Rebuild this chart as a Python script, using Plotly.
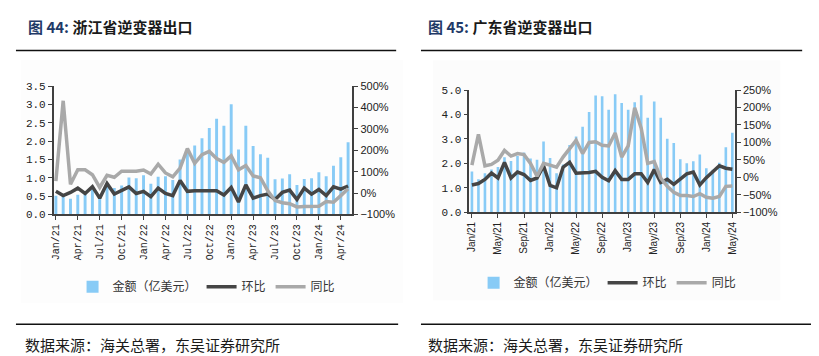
import plotly.graph_objects as go

months = ["Jan/21", "Feb/21", "Mar/21", "Apr/21", "May/21", "Jun/21", "Jul/21", "Aug/21", "Sep/21", "Oct/21", "Nov/21", "Dec/21",
          "Jan/22", "Feb/22", "Mar/22", "Apr/22", "May/22", "Jun/22", "Jul/22", "Aug/22", "Sep/22", "Oct/22", "Nov/22", "Dec/22",
          "Jan/23", "Feb/23", "Mar/23", "Apr/23", "May/23", "Jun/23", "Jul/23", "Aug/23", "Sep/23", "Oct/23", "Nov/23", "Dec/23",
          "Jan/24", "Feb/24", "Mar/24", "Apr/24", "May/24"]

left_ticks = months[::3]
right_ticks = months[::4]

# 浙江省 (left panel)
zj_amount = [0.51, 0.50, 0.43, 0.54, 0.56, 0.69, 0.44, 0.75, 0.72, 0.79, 1.01, 0.99,
             1.07, 0.84, 1.03, 1.04, 0.94, 1.50, 1.70, 1.88, 2.08, 2.36, 2.61, 2.42,
             3.01, 1.77, 2.42, 1.87, 1.64, 1.55, 0.96, 0.98, 1.10, 0.80, 0.97, 0.99,
             1.15, 1.04, 1.33, 1.56, 1.97]
zj_mom = [8, -12, 3, 23, -2, 30, -24, 45, -5, 11, 29, -2,
          8, -17, 23, -2, -12, 59, 8, 11, 11, 12, 11, -9,
          26, -42, 38, -24, -12, -5, -30, 3, 14, -30, 23, -5,
          17, -12, 29, 18, 33]
zj_yoy = [56, 432, 41, 109, 109, 86, 26, 83, 74, 102, 102, 102,
          108, 89, 135, 94, 76, 117, 208, 139, 180, 195, 162, 144,
          174, 109, 129, 80, 72, 10, -35, -45, -50, -65, -63, -62,
          -62, -40, -43, -12, 20]

# 广东省 (right panel)
gd_amount = [1.67, 1.35, 1.60, 1.75, 1.85, 2.25, 2.10, 2.30, 2.45, 2.20, 2.15, 2.90,
             2.22, 1.60, 1.95, 2.75, 3.10, 3.50, 4.10, 4.78, 4.75, 4.20, 4.83, 4.47,
             4.20, 4.50, 4.79, 3.87, 4.53, 3.87, 3.01, 2.83, 2.17, 2.00, 2.09, 2.36,
             1.80, 1.74, 2.03, 2.66, 3.25]
gd_mom = [-22, -18, -6, 12, -2, 43, -2, 15, 8, -9, -2, 33,
          -23, -30, 29, 43, 12, 12, 14, 17, 0, -10, 19, -6,
          -6, 10, 10, -15, 22, -15, -6, -20, -4, 10, 15, -22,
          -1, 17, 33, 26, 23]
gd_yoy = [35, 123, 33, 37, 49, 77, 61, 68, 65, 40, 3, 40,
          35, 29, 58, 81, 106, 68, 100, 102, 92, 90, 127, 58,
          90, 199, 141, 40, 45, -2, -26, -43, -52, -52, -55, -47,
          -57, -60, -55, -26, -25]

W, H = 819, 356
BAR = "#88CBF6"
DARK = "#454545"
GRAY = "#A9A9A9"
AX = "#404040"
MONO = "Liberation Mono"
SANS = "Liberation Sans"
CJK = "Noto Sans CJK SC"


def px(x):
    return x / W


def py(y):
    return 1 - y / H


fig = go.Figure()

fig.add_trace(go.Bar(x=months, y=zj_amount, name="金额（亿美元）", marker=dict(color=BAR, line=dict(width=0)),
                     xaxis="x", yaxis="y", legend="legend"))
fig.add_trace(go.Scatter(x=months, y=zj_mom, name="环比", mode="lines", line=dict(color=DARK, width=3.5),
                         xaxis="x", yaxis="y2", legend="legend"))
fig.add_trace(go.Scatter(x=months, y=zj_yoy, name="同比", mode="lines", line=dict(color=GRAY, width=3.5),
                         xaxis="x", yaxis="y2", legend="legend"))

fig.add_trace(go.Bar(x=months, y=gd_amount, name="金额（亿美元）", marker=dict(color=BAR, line=dict(width=0)),
                     xaxis="x2", yaxis="y3", legend="legend2"))
fig.add_trace(go.Scatter(x=months, y=gd_mom, name="环比", mode="lines", line=dict(color=DARK, width=3.5),
                         xaxis="x2", yaxis="y4", legend="legend2"))
fig.add_trace(go.Scatter(x=months, y=gd_yoy, name="同比", mode="lines", line=dict(color=GRAY, width=3.5),
                         xaxis="x2", yaxis="y4", legend="legend2"))

common_axis = dict(showline=True, linecolor=AX, linewidth=1.5, ticks="outside", tickcolor=AX,
                   ticklen=4, showgrid=False, zeroline=False)

fig.update_layout(
    width=W, height=H,
    margin=dict(l=0, r=0, t=0, b=0),
    paper_bgcolor="white",
    plot_bgcolor="rgba(0,0,0,0)",
    bargap=0.6,
    hovermode=False,
    xaxis=dict(domain=[px(43), px(344)], anchor="y", type="category", range=[-0.3, 40.6],
               tickmode="array", tickvals=left_ticks, ticktext=left_ticks, tickangle=-90,
               tickfont=dict(family=MONO, size=10, color="#222"), **common_axis),
    yaxis=dict(domain=[py(208), py(75)], anchor="x", range=[0, 3.5], dtick=0.5, tickformat=".1f",
               tickfont=dict(family=MONO, size=11, color="#222"), **common_axis),
    yaxis2=dict(overlaying="y", side="right", anchor="x", range=[-100, 500], dtick=100, ticksuffix="%",
                tickfont=dict(family=SANS, size=11, color="#222"), **common_axis),
    xaxis2=dict(domain=[px(461.7), px(729.3)], anchor="y3", type="category", range=[-0.4, 40.4],
                tickmode="array", tickvals=right_ticks, ticktext=right_ticks, tickangle=-90,
                tickfont=dict(family=SANS, size=10, color="#222"), **common_axis),
    yaxis3=dict(domain=[py(205.7), py(79)], anchor="x2", range=[0, 5], dtick=1, tickformat=".1f",
                tickfont=dict(family=MONO, size=11, color="#222"), **common_axis),
    yaxis4=dict(overlaying="y3", side="right", anchor="x2", range=[-100, 250], dtick=50, ticksuffix="%",
                tickfont=dict(family=SANS, size=11, color="#222"), **common_axis),
    legend=dict(orientation="h", x=px(197), xanchor="center", y=py(283), yanchor="middle",
                font=dict(family=CJK, size=12, color="#333"), bgcolor="rgba(0,0,0,0)",
                itemwidth=30, tracegroupgap=0),
    legend2=dict(orientation="h", x=px(601), xanchor="center", y=py(279), yanchor="middle",
                 font=dict(family=CJK, size=12, color="#333"), bgcolor="rgba(0,0,0,0)",
                 itemwidth=30, tracegroupgap=0),
)

shapes = []
# faint chart backgrounds
shapes.append(dict(type="rect", xref="paper", yref="paper", x0=px(10), x1=px(395), y0=py(300), y1=py(48),
                   fillcolor="#FDFDFD", line=dict(width=0), layer="below"))
shapes.append(dict(type="rect", xref="paper", yref="paper", x0=px(425), x1=px(775), y0=py(297), y1=py(48),
                   fillcolor="#FCFCFC", line=dict(width=0), layer="below"))
# rules
for x0, x1 in [(5, 388), (413, 797)]:
    shapes.append(dict(type="line", xref="paper", yref="paper", x0=px(x0), x1=px(x1), y0=py(38), y1=py(38),
                       line=dict(color="#111", width=1.5)))
for x0, x1 in [(5, 390), (413, 808)]:
    shapes.append(dict(type="line", xref="paper", yref="paper", x0=px(x0), x1=px(x1), y0=py(322), y1=py(322),
                       line=dict(color="#111", width=1.5)))
fig.update_layout(shapes=shapes)

annotations = [
    dict(text='<b><span style="color:#1F3A68">图 44:</span> 浙江省逆变器出口</b>', x=px(15), y=py(13)),
    dict(text='<b><span style="color:#1F3A68">图 45:</span> 广东省逆变器出口</b>', x=px(418), y=py(13)),
]
for a in annotations:
    a.update(xref="paper", yref="paper", xanchor="left", yanchor="middle", showarrow=False,
             font=dict(family=CJK, size=15, color="#1a1a1a"))
for x in [12, 418]:
    annotations.append(dict(text="数据来源：海关总署，东吴证券研究所", x=px(x), y=py(343), xref="paper", yref="paper",
                            xanchor="left", yanchor="middle", showarrow=False,
                            font=dict(family=CJK, size=15, color="#1a1a1a")))
fig.update_layout(annotations=annotations)

fig.write_html("out.html")
